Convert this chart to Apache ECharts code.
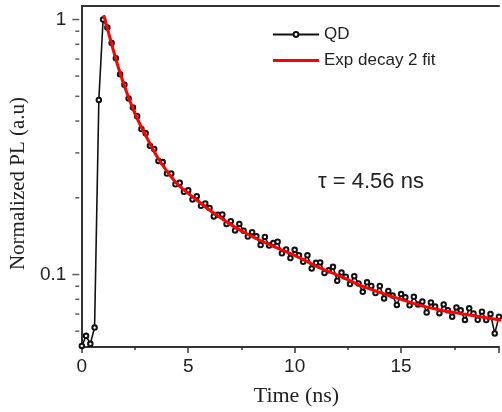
<!DOCTYPE html>
<html>
<head>
<meta charset="utf-8">
<script src="https://cdn.jsdelivr.net/npm/echarts@6/dist/echarts.min.js"></script>
<style>
  html, body { margin: 0; padding: 0; background: #fff; }
  #chart { width: 502px; height: 412px; }
</style>
</head>
<body>
<div id="chart"></div>
<script>
// ---------------------------------------------------------------------------
// Data
// ---------------------------------------------------------------------------

// QD photoluminescence decay, time in ns
const qdTime = [
  0.0, 0.2, 0.4, 0.6, 0.8, 1.0, 1.2, 1.4, 1.6, 1.8,
  2.0, 2.2, 2.4, 2.6, 2.8, 3.0, 3.2, 3.4, 3.6, 3.8,
  4.0, 4.2, 4.4, 4.6, 4.8, 5.0, 5.2, 5.4, 5.6, 5.8,
  6.0, 6.2, 6.4, 6.6, 6.8, 7.0, 7.2, 7.4, 7.6, 7.8,
  8.0, 8.2, 8.4, 8.6, 8.8, 9.0, 9.2, 9.4, 9.6, 9.8,
  10.0, 10.2, 10.4, 10.6, 10.8, 11.0, 11.2, 11.4, 11.6, 11.8,
  12.0, 12.2, 12.4, 12.6, 12.8, 13.0, 13.2, 13.4, 13.6, 13.8,
  14.0, 14.2, 14.4, 14.6, 14.8, 15.0, 15.2, 15.4, 15.6, 15.8,
  16.0, 16.2, 16.4, 16.6, 16.8, 17.0, 17.2, 17.4, 17.6, 17.8,
  18.0, 18.2, 18.4, 18.6, 18.8, 19.0, 19.2, 19.4, 19.6, 19.8
];
const qdValue = [
  0.0525, 0.0575, 0.0535, 0.062, 0.484, 1.0, 0.93, 0.81, 0.705, 0.61,
  0.555, 0.49, 0.452, 0.418, 0.372, 0.358, 0.32, 0.311, 0.279, 0.276,
  0.249, 0.249, 0.226, 0.229, 0.211, 0.214, 0.197, 0.203, 0.186, 0.19,
  0.1825, 0.169, 0.1715, 0.172, 0.158, 0.162, 0.149, 0.158, 0.1487, 0.141,
  0.1466, 0.1413, 0.1306, 0.1404, 0.13, 0.1329, 0.1345, 0.1212, 0.1254, 0.1161,
  0.125, 0.119, 0.1122, 0.119, 0.1057, 0.1112, 0.1116, 0.1015, 0.1039, 0.1073,
  0.0946, 0.1018, 0.0981, 0.0918, 0.0986, 0.0923, 0.0856, 0.0932, 0.0902, 0.0846,
  0.0902, 0.0806, 0.0863, 0.0827, 0.076, 0.0839, 0.0814, 0.0758, 0.0818, 0.0763,
  0.0784, 0.071, 0.0778, 0.0749, 0.0706, 0.0764, 0.0724, 0.0684, 0.0743, 0.0724,
  0.0664, 0.0737, 0.0704, 0.0665, 0.0715, 0.0663, 0.07, 0.0588, 0.0684, 0.0667
];

// Bi-exponential fit curve
const fitTime = [
  1.03, 1.3, 1.6, 2.0, 2.5, 3.0, 3.5, 4.0, 4.5, 5.0, 5.5, 6.0, 7.0,
  8.0, 9.0, 10.0, 11.0, 12.0, 13.0, 14.0, 15.0, 16.0, 17.0, 18.0, 19.0, 19.7
];
const fitValue = [
  1.04, 0.859, 0.699, 0.549, 0.427, 0.351, 0.293, 0.254, 0.226, 0.208, 0.193, 0.179, 0.157,
  0.141, 0.129, 0.119, 0.108, 0.0996, 0.0914, 0.0851, 0.0799, 0.0754, 0.0721, 0.0699, 0.0677, 0.0662
];

// Log axis ticks
const yMajorTicks = [0.1, 1];
const yMinorTicks = [0.06, 0.07, 0.08, 0.09, 0.2, 0.3, 0.4, 0.5, 0.6, 0.7, 0.8, 0.9];

const seriesNames = ['QD', 'Exp decay 2 fit'];
const tauLabel = 'τ = 4.56 ns';

// ---------------------------------------------------------------------------
// Styling
// ---------------------------------------------------------------------------
const AXIS_COLOR = '#333';
const TEXT_COLOR = '#222';
const SANS = '"Liberation Sans", Arial, sans-serif';
const SERIF = '"Liberation Serif", "Times New Roman", serif';

const zip = (xs, ys) => xs.map((x, i) => [x, ys[i]]);

// Outward tick marks on the log axis, drawn as thin rect symbols sitting at x = 0
function tickSeries(values, len) {
  return {
    type: 'scatter',
    data: values.map(v => [0, v]),
    symbol: 'rect',
    symbolSize: [len, 1.5],
    symbolOffset: [-(2.5 + len / 2), 0],   // axis line sits 1.5px left of the grid edge
    itemStyle: { color: AXIS_COLOR },
    clip: false,
    silent: true,
    z: 5
  };
}

const chart = echarts.init(document.getElementById('chart'));

const option = {
  animation: false,
  backgroundColor: '#fff',
  grid: { left: 78.5, right: 0, top: 6, bottom: 62.5 },

  legend: {
    orient: 'vertical',
    left: 272,
    top: 26,
    padding: 0,
    itemWidth: 46,
    itemHeight: 6,
    itemGap: 9,
    data: [
      { name: seriesNames[0] },
      { name: seriesNames[1], icon: 'path://M0,0L46,0L46,3L0,3Z' }
    ],
    textStyle: { fontSize: 17, fontFamily: SANS, color: TEXT_COLOR }
  },

  xAxis: [{
    type: 'value',
    min: 0,
    max: 19.6,
    interval: 5,
    axisLine: { lineStyle: { color: AXIS_COLOR, width: 2 } },
    axisTick: { length: 6, lineStyle: { color: AXIS_COLOR, width: 1.5 } },
    minorTick: { show: true, splitNumber: 2, length: 3, lineStyle: { color: AXIS_COLOR, width: 1.5 } },
    splitLine: { show: false },
    axisLabel: {
      fontSize: 19, fontFamily: SANS, color: TEXT_COLOR, margin: 10,
      formatter: v => (v % 5 === 0 ? String(v) : '')
    },
    name: 'Time (ns)',
    nameLocation: 'middle',
    nameGap: 38,
    nameTextStyle: { fontSize: 22, fontFamily: SERIF, color: TEXT_COLOR, padding: [0, 0, 0, 12] }
  }, {
    // top frame line only
    type: 'value',
    position: 'top',
    min: 0,
    max: 19.6,
    axisLine: { show: true, lineStyle: { color: AXIS_COLOR, width: 2 } },
    axisTick: { show: false },
    axisLabel: { show: false },
    splitLine: { show: false }
  }],

  yAxis: {
    type: 'log',
    logBase: 10,
    min: 0.052,
    max: 1.13,
    offset: 1.5,
    axisLine: { show: true, lineStyle: { color: AXIS_COLOR, width: 2 } },
    axisTick: { show: false },
    minorTick: { show: false },
    splitLine: { show: false },
    axisLabel: {
      fontSize: 19, fontFamily: SANS, color: TEXT_COLOR, margin: 14,
      formatter: v => {
        if (Math.abs(v - 1) < 1e-6) return '1';
        if (Math.abs(v - 0.1) < 1e-6) return '0.1';
        return '';
      }
    },
    name: 'Normalized PL (a.u)',
    nameLocation: 'middle',
    nameGap: 48,
    nameTextStyle: { fontSize: 21, fontFamily: SERIF, color: TEXT_COLOR, padding: [0, 14, 0, 0] }
  },

  graphic: [{
    type: 'text',
    left: 318,
    top: 171,
    style: { text: tauLabel, font: '22px "Liberation Sans", Arial, sans-serif', fill: TEXT_COLOR }
  }],

  series: [{
    name: seriesNames[0],
    type: 'line',
    data: zip(qdTime, qdValue),
    symbol: 'emptyCircle',
    symbolSize: 4.5,
    showAllSymbol: true,
    lineStyle: { color: '#111', width: 1.6 },
    itemStyle: { color: '#111', borderColor: '#111', borderWidth: 1.2 },
    z: 2
  }, {
    name: seriesNames[1],
    type: 'line',
    data: zip(fitTime, fitValue),
    smooth: 0.3,
    showSymbol: false,
    symbol: 'none',
    lineStyle: { color: '#ff0000', width: 3 },
    itemStyle: { color: '#ff0000' },
    z: 3
  },
  tickSeries(yMajorTicks, 7),
  tickSeries(yMinorTicks, 4)
  ]
};

chart.setOption(option);
</script>
</body>
</html>
